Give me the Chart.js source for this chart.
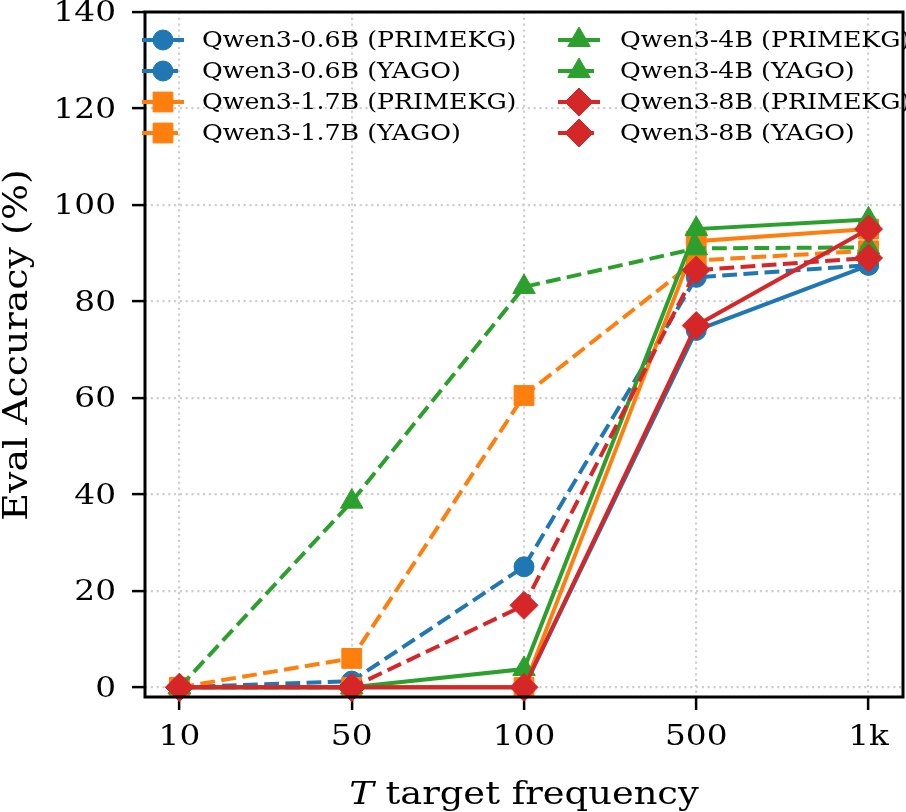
<!DOCTYPE html>
<html>
<head>
<meta charset="utf-8">
<script src="https://cdn.jsdelivr.net/npm/chart.js@4.4.1/dist/chart.umd.min.js"></script>
<style>
  html, body { margin: 0; padding: 0; background: #ffffff; }
  #wrap { width: 906px; height: 812px; position: relative; }
</style>
</head>
<body>
<div id="wrap"><canvas id="c" width="906" height="812"></canvas></div>
<script>
// ---- data ----
const categories = ['10', '50', '100', '500', '1k'];
const yTicks = [0, 20, 40, 60, 80, 100, 120, 140];
const seriesNames = [
  'Qwen3-0.6B (PRIMEKG)', 'Qwen3-0.6B (YAGO)',
  'Qwen3-1.7B (PRIMEKG)', 'Qwen3-1.7B (YAGO)',
  'Qwen3-4B (PRIMEKG)', 'Qwen3-4B (YAGO)',
  'Qwen3-8B (PRIMEKG)', 'Qwen3-8B (YAGO)'
];
const q06Primekg = [0, 0, 0, 74, 87.5];
const q06Yago    = [0, 1.3, 25, 85, 87.5];
const q17Primekg = [0, 0, 0, 92.5, 95];
const q17Yago    = [0, 6, 60.5, 88.5, 90.5];
const q4Primekg  = [0, 0, 3.8, 95, 97];
const q4Yago     = [0, 38.5, 83, 91, 91.2];
const q8Primekg  = [0, 0, 0, 75, 95];
const q8Yago     = [0, 0, 17, 86.5, 89];
const seriesValues = [q06Primekg, q06Yago, q17Primekg, q17Yago, q4Primekg, q4Yago, q8Primekg, q8Yago];

// ---- styles ----
const colors = ['#1f77b4', '#1f77b4', '#ff7f0e', '#ff7f0e', '#2ca02c', '#2ca02c', '#d62728', '#d62728'];
const markers = ['circle', 'circle', 'rect', 'rect', 'triangle', 'triangle', 'rectRot', 'rectRot'];
const markerSize = { circle: 10, rect: 14, triangle: 13, rectRot: 14 };
const LW = 4;
const DASH = [14.8, 6.4];
const SERIF = '"DejaVu Serif", serif';
const TEXT_SX = 1.15; // horizontal text widening to match reference glyph proportions

const datasets = seriesNames.map((name, i) => ({
  label: name,
  data: seriesValues[i].map((v, j) => ({ x: j, y: v })),
  borderColor: colors[i],
  backgroundColor: colors[i],
  pointBackgroundColor: colors[i],
  pointBorderColor: colors[i],
  pointBorderWidth: 1,
  pointStyle: markers[i],
  pointRadius: markerSize[markers[i]],
  pointHoverRadius: markerSize[markers[i]],
  borderWidth: LW,
  borderDash: i % 2 === 1 ? DASH : [],
  tension: 0,
  fill: false,
  clip: false,
  order: seriesNames.length - i
}));

const textWiden = {
  id: 'textWiden',
  beforeDraw(chart) {
    const ctx = chart.ctx;
    if (ctx._origFillText) return;
    ctx._origFillText = ctx.fillText;
    ctx.fillText = function (text, x, y) {
      this.save();
      this.translate(x, y);
      this.scale(TEXT_SX, 1);
      this._origFillText(text, 0, 0);
      this.restore();
    };
  }
};

const legendAndFrame = {
  id: 'legendAndFrame',
  afterDraw(chart) {
    const ctx = chart.ctx;
    const a = chart.chartArea;
    ctx.save();
    // spines
    ctx.strokeStyle = '#000';
    ctx.lineWidth = 3;
    ctx.setLineDash([]);
    ctx.strokeRect(a.left, a.top, a.right - a.left, a.bottom - a.top);
    // legend
    const rows = [40, 71, 102, 133];
    chart.data.datasets.forEach((ds, i) => {
      const col = i < 4 ? 0 : 1;
      const y = rows[i % 4];
      const x0 = col ? 558 : 142;
      ctx.strokeStyle = ds.borderColor;
      ctx.lineWidth = LW;
      ctx.setLineDash(ds.borderDash);
      ctx.beginPath();
      ctx.moveTo(x0, y);
      ctx.lineTo(x0 + 42, y);
      ctx.stroke();
      ctx.setLineDash([]);
      ctx.fillStyle = ds.backgroundColor;
      ctx.strokeStyle = ds.borderColor;
      ctx.lineWidth = 1;
      Chart.helpers.drawPoint(ctx, { pointStyle: ds.pointStyle, radius: ds.pointRadius, rotation: 0, borderWidth: 1 }, x0 + 21, y);
      ctx.fillStyle = '#000';
      ctx.font = '22px ' + SERIF;
      ctx.textAlign = 'left';
      ctx.textBaseline = 'middle';
      ctx.fillText(ds.label, col ? 620 : 202, y + 1);
    });
    // y title
    ctx.fillStyle = '#000';
    ctx.save();
    ctx.translate(18, 345);
    ctx.rotate(-Math.PI / 2);
    ctx.font = '33px ' + SERIF;
    ctx.textAlign = 'center';
    ctx.textBaseline = 'middle';
    ctx.fillText('Eval Accuracy (%)', 0, 0);
    ctx.restore();
    // x title with italic T
    ctx.font = 'italic 32px ' + SERIF;
    const t1 = 'T';
    const w1 = ctx.measureText(t1).width * TEXT_SX;
    ctx.font = '32px ' + SERIF;
    const t2 = ' target frequency';
    const w2 = ctx.measureText(t2).width * TEXT_SX;
    const cx = (a.left + a.right) / 2;
    const x = cx - (w1 + w2) / 2;
    ctx.textAlign = 'left';
    ctx.textBaseline = 'alphabetic';
    ctx.font = 'italic 32px ' + SERIF;
    ctx.fillText(t1, x, 804);
    ctx.font = '32px ' + SERIF;
    ctx.fillText(t2, x + w1, 804);
    ctx.restore();
  }
};

const whiteBg = {
  id: 'whiteBg',
  beforeDraw(chart) {
    const ctx = chart.ctx;
    ctx.save();
    ctx.fillStyle = '#fff';
    ctx.fillRect(0, 0, chart.width, chart.height);
    ctx.restore();
  }
};

function zeroPad(s) {
  s.paddingTop = 0; s.paddingBottom = 0; s.paddingLeft = 0; s.paddingRight = 0;
}

const gridCommon = {
  color: '#cfcfcf',
  lineWidth: 2.2,
  tickColor: '#000',
  tickWidth: 2.5,
  tickLength: 13,
  tickBorderDash: []
};

new Chart(document.getElementById('c'), {
  type: 'line',
  data: { datasets },
  options: {
    responsive: false,
    animation: false,
    events: [],
    layout: { autoPadding: false, padding: { top: 12, right: 3, left: 0, bottom: 0 } },
    plugins: { legend: { display: false }, tooltip: { enabled: false } },
    scales: {
      x: {
        type: 'linear',
        min: -0.2,
        max: 4.2,
        afterBuildTicks: (s) => { s.ticks = categories.map((c, i) => ({ value: i })); },
        afterFit: (s) => { s.height = 115; zeroPad(s); },
        ticks: {
          callback: (v) => categories[v],
          font: { family: SERIF, size: 28.5 },
          color: '#000',
          padding: 10,
          maxRotation: 0,
          autoSkip: false
        },
        grid: gridCommon,
        border: { display: false, dash: [2.2, 3.6] }
      },
      y: {
        type: 'linear',
        min: -2,
        max: 140,
        afterBuildTicks: (s) => { s.ticks = yTicks.map(v => ({ value: v })); },
        afterFit: (s) => { s.width = 145; zeroPad(s); },
        ticks: {
          font: { family: SERIF, size: 28.5 },
          color: '#000',
          padding: 16,
          labelOffset: 2
        },
        grid: gridCommon,
        border: { display: false, dash: [2.2, 3.6] }
      }
    }
  },
  plugins: [whiteBg, textWiden, legendAndFrame]
});
</script>
</body>
</html>
